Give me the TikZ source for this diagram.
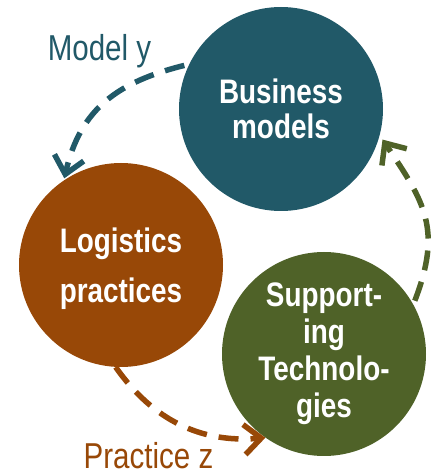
\documentclass[tikz,border=0pt]{standalone}
\usepackage{fontspec}
\setmainfont[FakeStretch=0.82]{Liberation Sans}
\usepackage{tikz}
\usetikzlibrary{shapes,arrows.meta,positioning}
\definecolor{bmteal}{HTML}{215968}
\definecolor{lpbrown}{HTML}{984807}
\definecolor{stgreen}{HTML}{4F6228}
\tikzstyle{bubble} = [circle, minimum size=204pt, inner sep=0pt, text=white, align=center, font=\fontsize{34}{37}\selectfont\bfseries]
\tikzstyle{tag} = [inner sep=0pt, anchor=base, font=\fontsize{36}{40}\selectfont]
\tikzstyle{link} = [draw, line width=5.5pt, dash pattern=on 20pt off 12pt, -{Straight Barb[length=17pt,width=30pt]}]

\begin{document}
\begin{tikzpicture}[x=1pt, y=1pt]
	\useasboundingbox (0,0) rectangle (439,475);
	\node [bubble, fill=bmteal] (bm) at (281, 366) {Business\\[-2pt]models};
	\node [bubble, fill=lpbrown, text depth=0pt] (lp) at (121, 210) {Logistics\\[13pt]practices};
	\node [bubble, fill=stgreen] (st) at (324, 121) {Support-\\ing\\Technolo-\\gies};
	\node [tag, text=bmteal] (my) at (99.5, 414) {Model y};
	\node [tag, text=lpbrown] (pz) at (148.5, 6.5) {Practice z};
	
	\path [link, bmteal, shorten <=5pt, shorten >=2pt] (bm.154) to[out=194, in=77, looseness=1.1] (lp.124);
	\path [link, lpbrown] (lp.267) to[out=305, in=185] (st.235);
	\path [link, stgreen, shorten <=4pt, shorten >=5pt] (st.29) to[out=69, in=304, looseness=1.2] (bm.345);
\end{tikzpicture}
\end{document}
